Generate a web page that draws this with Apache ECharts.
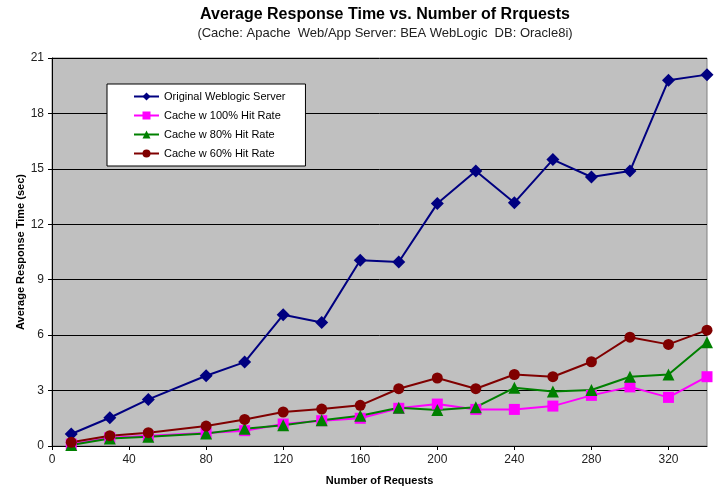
<!DOCTYPE html>
<html>
<head>
<meta charset="utf-8">
<script src="https://cdn.jsdelivr.net/npm/echarts@6/dist/echarts.min.js"></script>
<style>
html,body{margin:0;padding:0;background:#fff}
#chart{width:715px;height:487px}
</style>
</head>
<body>
<div id="chart"></div>
<script>
// number of requests (x values)
const requests=[10,30,50,80,100,120,140,160,180,200,220,240,260,280,300,320,340];
const original=[0.65,1.53,2.52,3.8,4.54,7.1,6.69,10.05,9.96,13.12,14.88,13.17,15.5,14.56,14.88,19.8,20.1];
const hit100=[0.1,0.45,0.55,0.7,0.83,1.19,1.37,1.5,2.04,2.27,1.98,1.98,2.16,2.74,3.2,2.63,3.75];
const hit80=[0.05,0.4,0.5,0.68,0.94,1.12,1.4,1.64,2.07,1.95,2.1,3.15,2.95,3.03,3.75,3.87,5.62];
const hit60=[0.2,0.56,0.72,1.08,1.44,1.84,2.0,2.2,3.1,3.68,3.1,3.87,3.75,4.56,5.89,5.5,6.27];
const names=['Original Weblogic Server','Cache w 100% Hit Rate','Cache w 80% Hit Rate','Cache w 60% Hit Rate'];

function pairs(vals){return requests.map((x,i)=>[x,vals[i]])}

var c=echarts.init(document.getElementById('chart'));
const font='Arial, "Liberation Sans", sans-serif';
function mk(name,vals,color,symbol,size){
 return {name:name,type:'line',data:pairs(vals),symbol:symbol,symbolSize:size,
  lineStyle:{color:color,width:2},itemStyle:{color:color},animation:false,z:3};
}
c.setOption({
 animation:false,
 title:{
  text:'Average Response Time vs. Number of Rrquests',
  subtext:'(Cache: Apache  Web/App Server: BEA WebLogic  DB: Oracle8i)',
  left:380,top:2,textAlign:'center',itemGap:4,
  textStyle:{fontFamily:font,fontSize:16,fontWeight:'bold',color:'#000'},
  subtextStyle:{fontFamily:font,fontSize:13,color:'#222'}
 },
 legend:{
  orient:'vertical',left:107,top:84,
  backgroundColor:'#fff',borderColor:'#000',borderWidth:1,borderRadius:0,
  padding:[7,20,7,26],itemGap:8,itemWidth:25,itemHeight:10,
  textStyle:{fontFamily:font,fontSize:11,color:'#000'},
  data:names
 },
 grid:{left:52,right:8,top:58,bottom:41,outerBoundsMode:'none',show:true,backgroundColor:'#C0C0C0',borderColor:'#808080',borderWidth:1},
 xAxis:{
  type:'value',min:0,max:340,interval:40,
  name:'Number of Requests',nameLocation:'middle',nameGap:29,nameMoveOverlap:false,
  nameTextStyle:{fontFamily:font,fontSize:11,fontWeight:'bold',color:'#000'},
  axisLine:{lineStyle:{color:'#000'}},
  axisTick:{show:true,length:4,lineStyle:{color:'#000'}},
  axisLabel:{fontFamily:font,fontSize:12,color:'#222',margin:8,showMaxLabel:false},
  splitLine:{show:false}
 },
 yAxis:{
  type:'value',min:0,max:21,interval:3,
  name:'Average Response Time (sec)',nameLocation:'middle',nameGap:26,nameMoveOverlap:false,
  nameTextStyle:{fontFamily:font,fontSize:11,fontWeight:'bold',color:'#000'},
  axisLine:{show:true,lineStyle:{color:'#000'}},
  axisTick:{show:true,length:4,lineStyle:{color:'#000'}},
  axisLabel:{fontFamily:font,fontSize:12,color:'#222',margin:8},
  splitLine:{show:true,lineStyle:{color:'#000',width:1}}
 },
 series:[
  mk(names[0],original,'#000080','diamond',13),
  mk(names[1],hit100,'#FF00FF','rect',11),
  mk(names[2],hit80,'#008000','triangle',12),
  mk(names[3],hit60,'#800000','circle',11)
 ]
});
</script>
</body>
</html>
